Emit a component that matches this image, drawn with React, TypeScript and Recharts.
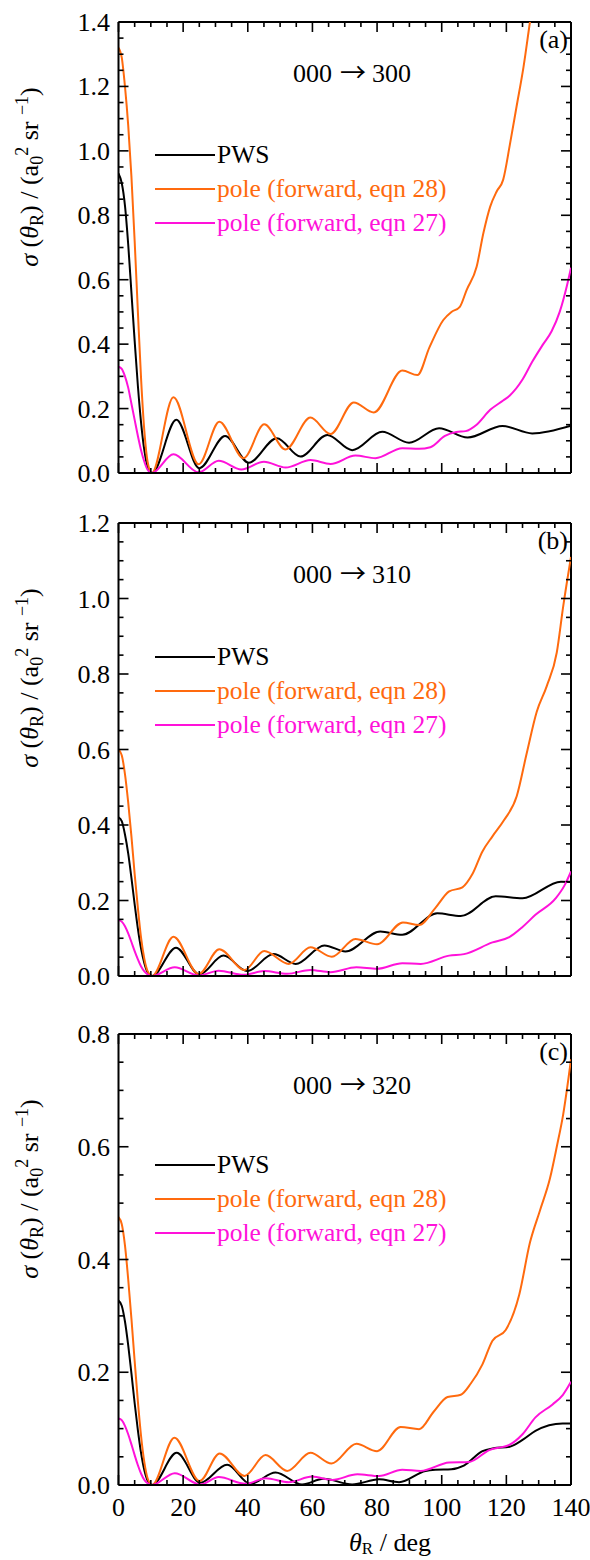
import React from 'react';
import { LineChart, Line, XAxis, YAxis, ReferenceLine, Legend, Customized } from 'recharts';

type Pt = [number, number];

// ---------- series names / colours ----------
const seriesNames = ['PWS', 'pole (forward, eqn 28)', 'pole (forward, eqn 27)'];
const seriesColors = ['#000000', '#FF6A0E', '#FF12DA'];

// ---------- tick labels ----------
const xTicks = [0, 5, 10, 15, 20, 25, 30, 35, 40, 45, 50, 55, 60, 65, 70, 75, 80, 85, 90, 95, 100, 105, 110, 115, 120, 125, 130, 135, 140];
const yMaxA = 1.4;
const yMaxB = 1.2;
const yMaxC = 0.8;
const panelStates = ['300', '310', '320'];
const panelLetters = ['(a)', '(b)', '(c)'];

// ---------- panel (a) 000 -> 300 ----------
const pwsA: Pt[] = [[0, 0.93], [1, 0.9], [2, 0.83], [3, 0.71], [4, 0.56], [5, 0.41], [6, 0.27], [7, 0.155], [8, 0.07], [9, 0.02], [10.4, 0], [17.9, 0.165], [25, 0.015], [33, 0.115], [40.3, 0.032], [49, 0.108], [56.3, 0.051], [64.6, 0.118], [72.3, 0.071], [81.6, 0.128], [89.9, 0.094], [99.2, 0.139], [108, 0.11], [118.8, 0.146], [128, 0.123], [140, 0.147]];
const o28A: Pt[] = [[0, 1.32], [1, 1.29], [2, 1.2], [3, 1.08], [4, 0.92], [5, 0.72], [6, 0.5], [7, 0.29], [8, 0.13], [9, 0.035], [10.3, 0], [17, 0.235], [24.8, 0.027], [31.2, 0.159], [38.7, 0.046], [45.1, 0.151], [51.7, 0.073], [59.4, 0.172], [65.6, 0.121], [72.8, 0.219], [79, 0.188], [87.8, 0.318], [92.5, 0.304], [96.2, 0.39], [100.5, 0.475], [103, 0.5], [105.6, 0.516], [107.7, 0.568], [110.8, 0.64], [112.9, 0.745], [115, 0.827], [117, 0.874], [119, 0.91], [121.1, 1.02], [123.2, 1.14], [125.3, 1.26], [127.3, 1.4], [130, 1.58]];
const m27A: Pt[] = [[0, 0.33], [1, 0.323], [2, 0.3], [3, 0.265], [4, 0.215], [5, 0.165], [6, 0.115], [7, 0.07], [8, 0.035], [9, 0.01], [10.3, 0], [17, 0.058], [24.8, 0.002], [31, 0.038], [38, 0.011], [45, 0.035], [51.7, 0.017], [59.4, 0.04], [65.6, 0.028], [73.3, 0.054], [79.5, 0.046], [87.8, 0.077], [93, 0.075], [96.5, 0.08], [101, 0.115], [104.5, 0.127], [107.4, 0.13], [110.8, 0.15], [115, 0.196], [119, 0.225], [121, 0.24], [125, 0.29], [128, 0.345], [131.4, 0.4], [134, 0.44], [136.5, 0.5], [138.7, 0.58], [140, 0.637]];

// ---------- panel (b) 000 -> 310 ----------
const pwsB: Pt[] = [[0, 0.42], [1, 0.41], [2, 0.375], [3, 0.325], [4, 0.26], [5, 0.19], [6, 0.125], [7, 0.072], [8, 0.034], [9, 0.01], [10.4, 0], [17.8, 0.075], [25, 0.004], [32.5, 0.054], [39.8, 0.013], [48, 0.058], [54.8, 0.032], [63.7, 0.081], [70.2, 0.065], [81, 0.118], [87.8, 0.109], [98.6, 0.166], [105.9, 0.159], [116.7, 0.211], [125, 0.206], [136.9, 0.25], [140, 0.249]];
const o28B: Pt[] = [[0, 0.6], [1, 0.585], [2, 0.535], [3, 0.46], [4, 0.37], [5, 0.27], [6, 0.18], [7, 0.1], [8, 0.045], [9, 0.013], [10.4, 0], [17, 0.104], [24.8, 0.005], [31.2, 0.071], [39, 0.016], [45.1, 0.066], [52.7, 0.032], [59.4, 0.076], [66, 0.051], [73.3, 0.098], [80, 0.084], [88, 0.142], [93, 0.135], [98, 0.18], [102.3, 0.224], [106.4, 0.235], [109.5, 0.27], [112.6, 0.33], [115.7, 0.37], [119.3, 0.413], [123.2, 0.476], [126.3, 0.59], [129.4, 0.7], [132.5, 0.768], [135.6, 0.857], [137.6, 0.98], [140, 1.11]];
const m27B: Pt[] = [[0, 0.148], [1, 0.144], [2, 0.132], [3, 0.113], [4, 0.09], [5, 0.066], [6, 0.044], [7, 0.025], [8, 0.012], [9, 0.004], [10.4, 0], [17.4, 0.023], [24.8, 0.001], [31, 0.014], [38.7, 0.003], [45.1, 0.013], [52.2, 0.006], [59.4, 0.016], [65.6, 0.01], [73.6, 0.023], [80, 0.019], [87.8, 0.034], [93.5, 0.032], [102.3, 0.054], [106.9, 0.058], [115.7, 0.089], [120.9, 0.103], [125, 0.13], [129, 0.162], [135.3, 0.206], [138, 0.24], [140, 0.277]];

// ---------- panel (c) 000 -> 320 ----------
const pwsC: Pt[] = [[0, 0.327], [1, 0.318], [2, 0.29], [3, 0.248], [4, 0.198], [5, 0.145], [6, 0.097], [7, 0.056], [8, 0.026], [9, 0.008], [10.4, 0], [18, 0.057], [25.3, 0.004], [33.6, 0.036], [40.8, 0.002], [48.6, 0.022], [56.8, 0.001], [63.5, 0.011], [72.3, 0.001], [80.6, 0.01], [86.8, 0.005], [95, 0.025], [98, 0.027], [103, 0.028], [107, 0.035], [112.6, 0.06], [116, 0.065], [121, 0.068], [125, 0.08], [129, 0.096], [137.4, 0.109], [140, 0.109]];
const o28C: Pt[] = [[0, 0.475], [1, 0.463], [2, 0.425], [3, 0.365], [4, 0.295], [5, 0.22], [6, 0.148], [7, 0.086], [8, 0.04], [9, 0.012], [10.4, 0], [17.3, 0.084], [25.1, 0.007], [31.3, 0.056], [39, 0.016], [45.5, 0.053], [52.2, 0.025], [59.4, 0.057], [65.9, 0.038], [73.6, 0.073], [80, 0.06], [87.3, 0.103], [93, 0.099], [97.5, 0.13], [101.8, 0.156], [105.9, 0.16], [109, 0.18], [112.6, 0.214], [115.7, 0.256], [119.8, 0.275], [124, 0.338], [127.3, 0.43], [130.4, 0.487], [133.5, 0.544], [135.6, 0.6], [137.6, 0.658], [140, 0.755]];
const m27C: Pt[] = [[0, 0.118], [1, 0.115], [2, 0.105], [3, 0.09], [4, 0.072], [5, 0.053], [6, 0.035], [7, 0.02], [8, 0.009], [9, 0.003], [10.4, 0], [17.4, 0.021], [25.3, 0.001], [31, 0.014], [39.3, 0.002], [45.5, 0.012], [52.7, 0.005], [59.9, 0.015], [66.1, 0.009], [73.9, 0.019], [80.6, 0.016], [87.8, 0.027], [93.5, 0.025], [102.3, 0.04], [108.5, 0.041], [114.7, 0.062], [120.9, 0.071], [125, 0.09], [129, 0.12], [134.3, 0.143], [137.5, 0.16], [140, 0.183]];

// ---------- layout constants ----------
const FONT = "'Liberation Serif', 'Times New Roman', Times, serif";
const ARROW_FONT = "'Noto Sans CJK JP', 'Noto Sans CJK SC', sans-serif";
const W = 590;
const PLOT_LEFT = 118.5;
const PLOT_RIGHT = 571;
const PLOT_W = PLOT_RIGHT - PLOT_LEFT;

const mkYTicks = (max: number) =>
  Array.from({ length: Math.round(max / 0.05) + 1 }, (_, i) => +(i * 0.05).toFixed(2));

type PanelCfg = {
  top: number;
  height: number;
  plotTop: number;
  plotBottom: number;
  yMax: number;
  series: Pt[][];
  legendTop: number;
  state: string;
  letter: string;
  showX: boolean;
};

const panels: PanelCfg[] = [
  { top: 0, height: 500, plotTop: 22, plotBottom: 473, yMax: yMaxA, series: [pwsA, o28A, m27A], legendTop: 143, state: panelStates[0], letter: panelLetters[0], showX: false },
  { top: 500, height: 500, plotTop: 23, plotBottom: 476, yMax: yMaxB, series: [pwsB, o28B, m27B], legendTop: 145, state: panelStates[1], letter: panelLetters[1], showX: false },
  { top: 1000, height: 560, plotTop: 34, plotBottom: 485, yMax: yMaxC, series: [pwsC, o28C, m27C], legendTop: 153, state: panelStates[2], letter: panelLetters[2], showX: true },
];

const toData = (pts: Pt[]) => pts.map(([x, y]) => ({ x, y }));

function YLabel({ cy }: { cy: number }) {
  const bx = 38;
  return (
    <text transform={`rotate(-90, ${bx}, ${cy})`} x={bx} y={cy} textAnchor="middle" fontSize={26} style={{ fontFamily: FONT }} fill="#000">
      <tspan fontStyle="italic">σ</tspan>
      <tspan>{' ('}</tspan>
      <tspan fontStyle="italic">θ</tspan>
      <tspan fontSize={18} dy={5}>R</tspan>
      <tspan dy={-5}>{') / (a'}</tspan>
      <tspan fontSize={18} dy={5}>0</tspan>
      <tspan fontSize={18} dy={-15}>2</tspan>
      <tspan dy={10}>{' sr '}</tspan>
      <tspan fontSize={18} dy={-10}>{'\u22121'}</tspan>
      <tspan dy={10}>)</tspan>
    </text>
  );
}

function Panel({ cfg }: { cfg: PanelCfg }) {
  const { top, height, plotTop, plotBottom, yMax, series, legendTop, state, letter, showX } = cfg;
  const plotH = plotBottom - plotTop;
  const yTicks = mkYTicks(yMax);

  const renderXTick = (p: any) => {
    const v = p.payload.value as number;
    const major = v % 20 === 0;
    const len = major ? 10 : 5;
    const x = p.x;
    const y = p.y;
    return (
      <g key={`xt-${v}`}>
        <line x1={x} y1={y} x2={x} y2={y - len} stroke="#000" strokeWidth={1.6} />
        <line x1={x} y1={y - plotH} x2={x} y2={y - plotH + len} stroke="#000" strokeWidth={1.6} />
        {showX && major ? (
          <text x={x} y={y + 31} textAnchor="middle" fontSize={26} style={{ fontFamily: FONT }} fill="#000">
            {v}
          </text>
        ) : null}
      </g>
    );
  };

  const renderYTick = (p: any) => {
    const v = p.payload.value as number;
    const major = Math.round(v * 20) % 4 === 0;
    const len = major ? 10 : 5;
    const x = p.x;
    const y = p.y;
    return (
      <g key={`yt-${v}`}>
        <line x1={x} y1={y} x2={x + len} y2={y} stroke="#000" strokeWidth={1.6} />
        <line x1={x + PLOT_W} y1={y} x2={x + PLOT_W - len} y2={y} stroke="#000" strokeWidth={1.6} />
        {major ? (
          <text x={x - 8.5} y={y + 9} textAnchor="end" fontSize={26} style={{ fontFamily: FONT }} fill="#000">
            {v.toFixed(1)}
          </text>
        ) : null}
      </g>
    );
  };

  const renderLegend = (props: any) => {
    const payload: any[] = props.payload || [];
    const items = seriesNames.map((n, i) => {
      const found = payload.find((q) => q.value === n);
      return { value: n, color: found ? found.color : seriesColors[i] };
    });
    return (
      <svg width={340} height={90} style={{ display: 'block', overflow: 'visible' }}>
        {items.map((it, i) => {
          const ly = 12 + i * 34;
          return (
            <g key={it.value}>
              <line x1={5} x2={65} y1={ly} y2={ly} stroke={it.color} strokeWidth={2} />
              <text x={67} y={ly + 8} fill={it.color} fontSize={25.5} style={{ fontFamily: FONT }}>
                {it.value}
              </text>
            </g>
          );
        })}
      </svg>
    );
  };

  return (
    <div style={{ position: 'absolute', left: 0, top, width: W, height }}>
      <LineChart width={W} height={height} margin={{ top: plotTop, right: W - PLOT_RIGHT, bottom: 0, left: 0 }}>
        <XAxis
          dataKey="x"
          type="number"
          domain={[0, 140]}
          ticks={xTicks}
          interval={0}
          tickSize={0}
          tickMargin={0}
          tickLine={false}
          height={height - plotBottom}
          axisLine={{ stroke: '#000', strokeWidth: 2 }}
          tick={renderXTick}
          allowDataOverflow
          label={
            showX
              ? {
                  content: () => (
                    <text x={390} y={551} textAnchor="middle" fontSize={26} style={{ fontFamily: FONT }} fill="#000">
                      <tspan fontStyle="italic">θ</tspan>
                      <tspan fontSize={17} dy={3}>R</tspan>
                      <tspan dy={-3}>{' / deg'}</tspan>
                    </text>
                  ),
                }
              : undefined
          }
        />
        <YAxis
          type="number"
          domain={[0, yMax]}
          ticks={yTicks}
          interval={0}
          width={PLOT_LEFT}
          tickSize={0}
          tickMargin={0}
          tickLine={false}
          axisLine={{ stroke: '#000', strokeWidth: 2 }}
          tick={renderYTick}
          allowDataOverflow
          label={{ content: () => <YLabel cy={plotTop + 155} /> }}
        />
        <ReferenceLine y={yMax} stroke="#000" strokeWidth={2} />
        <ReferenceLine x={140} stroke="#000" strokeWidth={2} />
        {series.map((s, i) => (
          <Line
            key={seriesNames[i]}
            data={toData(s)}
            dataKey="y"
            name={seriesNames[i]}
            stroke={seriesColors[i]}
            strokeWidth={2}
            type="monotone"
            dot={false}
            activeDot={false}
            isAnimationActive={false}
          />
        ))}
        <Legend
          layout="vertical"
          align="center"
          verticalAlign="middle"
          wrapperStyle={{ left: 150, top: legendTop, width: 340, height: 90 }}
          content={renderLegend}
        />
        <Customized
          component={() => (
            <g fill="#000">
              <text x={293} y={plotTop + 60} fontSize={26} fill="#000" style={{ fontFamily: FONT }}>
                <tspan>{'000'}</tspan>
                <tspan dx={8} style={{ fontFamily: ARROW_FONT }} fontSize={26}>{'\u2192'}</tspan>
                <tspan dx={6}>{state}</tspan>
              </text>
              <text x={568} y={plotTop + 26} fontSize={26} textAnchor="end" fill="#000" style={{ fontFamily: FONT }}>
                {letter}
              </text>
            </g>
          )}
        />
      </LineChart>
    </div>
  );
}

export default function App() {
  return (
    <div style={{ position: 'absolute', left: 0, top: 0, width: W, height: 1560, background: '#fff' }}>
      {panels.map((p, i) => (
        <Panel key={i} cfg={p} />
      ))}
    </div>
  );
}
